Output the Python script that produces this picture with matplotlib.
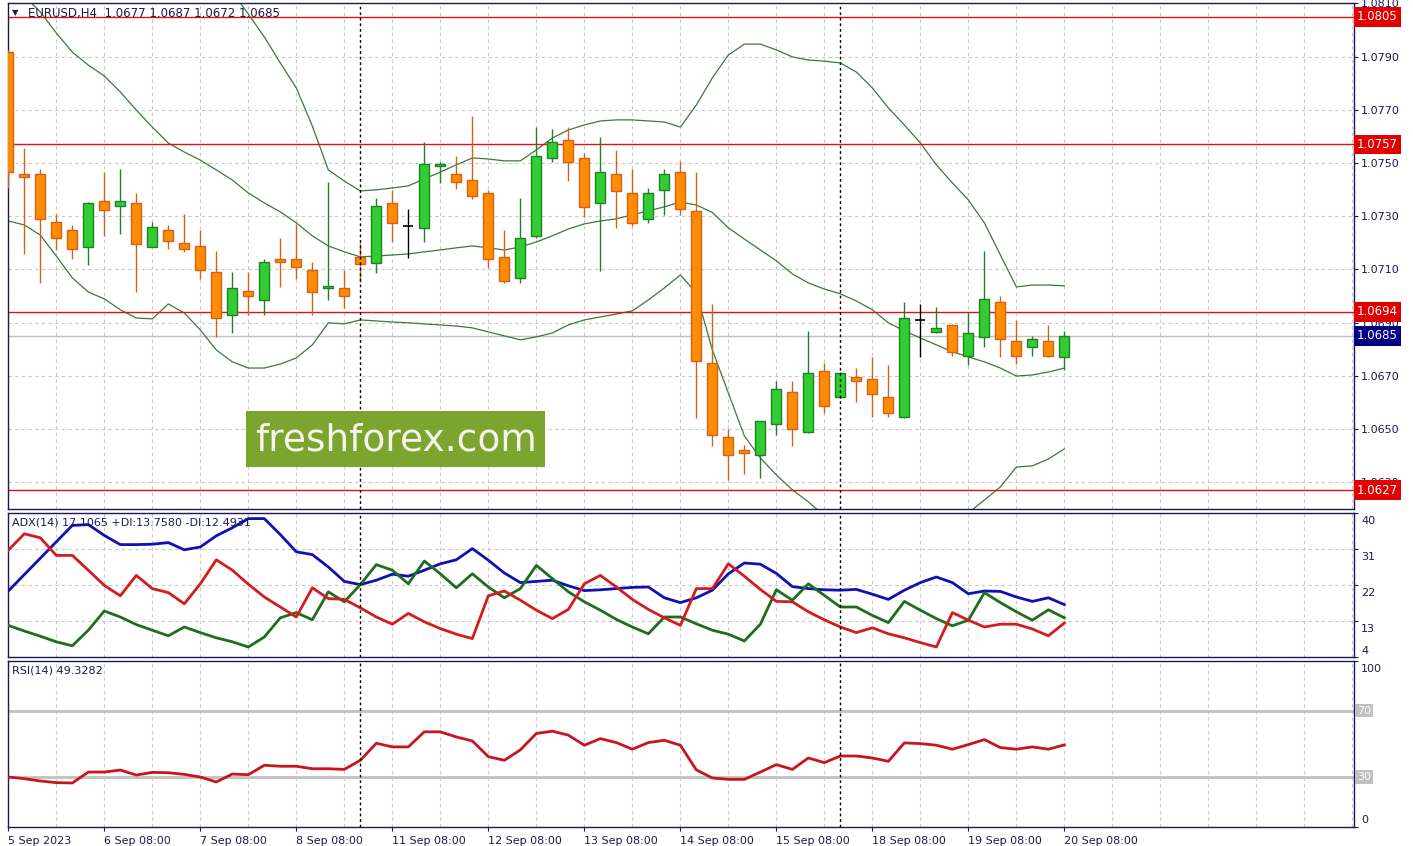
import matplotlib
matplotlib.use("Agg")
import matplotlib.pyplot as plt
import matplotlib.transforms as mtrans
from matplotlib.patches import Rectangle

# --- data (EURUSD H4) ---
opens = [1.07917, 1.07459, 1.07458, 1.07277, 1.07247, 1.07185, 1.07356, 1.07337, 1.07349, 1.07185,
         1.07247, 1.07198, 1.07187, 1.07089, 1.06929, 1.07018, 1.06986, 1.07139, 1.07139, 1.07098,
         1.07030, 1.07030, 1.07148, 1.07125, 1.07349, 1.07264, 1.07257, 1.07488, 1.07459, 1.07436,
         1.07386, 1.07146, 1.07067, 1.07227, 1.07518, 1.07587, 1.07518, 1.07349, 1.07459, 1.07386,
         1.07288, 1.07397, 1.07466, 1.07320, 1.06747, 1.06469, 1.06419, 1.06401, 1.06518, 1.06638,
         1.06488, 1.06717, 1.06619, 1.06697, 1.06687, 1.06619, 1.06546, 1.06909, 1.06866, 1.06891,
         1.06776, 1.06847, 1.06976, 1.06830, 1.06807, 1.06830, 1.06770]
highs = [1.07925, 1.07555, 1.07476, 1.07308, 1.07266, 1.07353, 1.07466, 1.07476, 1.07388, 1.07278,
         1.07266, 1.07308, 1.07248, 1.07169, 1.07089, 1.07089, 1.07139, 1.07217, 1.07270, 1.07127,
         1.07428, 1.07098, 1.07198, 1.07367, 1.07399, 1.07327, 1.07578, 1.07505, 1.07526, 1.07677,
         1.07399, 1.07248, 1.07367, 1.07637, 1.07627, 1.07634, 1.07539, 1.07597, 1.07549, 1.07478,
         1.07405, 1.07478, 1.07508, 1.07467, 1.06970, 1.06499, 1.06440, 1.06530, 1.06681, 1.06681,
         1.06869, 1.06747, 1.06714, 1.06728, 1.06770, 1.06740, 1.06976, 1.06970, 1.06958, 1.06893,
         1.06939, 1.07169, 1.07000, 1.06910, 1.06850, 1.06892, 1.06870]
lows = [1.07405, 1.07157, 1.07048, 1.07173, 1.07138, 1.07117, 1.07226, 1.07233, 1.07016, 1.07184,
        1.07176, 1.07167, 1.07065, 1.06847, 1.06860, 1.06929, 1.06929, 1.07035, 1.07065, 1.06929,
        1.06986, 1.06956, 1.07054, 1.07088, 1.07204, 1.07144, 1.07204, 1.07426, 1.07402, 1.07366,
        1.07104, 1.07048, 1.07048, 1.07217, 1.07505, 1.07434, 1.07296, 1.07095, 1.07257, 1.07263,
        1.07276, 1.07305, 1.07305, 1.06540, 1.06437, 1.06309, 1.06330, 1.06317, 1.06478, 1.06437,
        1.06485, 1.06559, 1.06617, 1.06601, 1.06546, 1.06546, 1.06540, 1.06770, 1.06860, 1.06776,
        1.06740, 1.06807, 1.06770, 1.06746, 1.06776, 1.06770, 1.06720]
closes = [1.07465, 1.07446, 1.07288, 1.07217, 1.07176, 1.07349, 1.07325, 1.07356, 1.07197, 1.07258,
          1.07206, 1.07176, 1.07097, 1.06916, 1.07029, 1.06999, 1.07127, 1.07127, 1.07108, 1.07016,
          1.07038, 1.06999, 1.07119, 1.07338, 1.07276, 1.07264, 1.07496, 1.07495, 1.07428, 1.07377,
          1.07138, 1.07058, 1.07217, 1.07525, 1.07578, 1.07505, 1.07336, 1.07466, 1.07396, 1.07276,
          1.07386, 1.07459, 1.07326, 1.06757, 1.06478, 1.06401, 1.06409, 1.06528, 1.06649, 1.06499,
          1.06710, 1.06588, 1.06710, 1.06680, 1.06631, 1.06559, 1.06916, 1.06909, 1.06879, 1.06789,
          1.06860, 1.06988, 1.06837, 1.06776, 1.06837, 1.06776, 1.06850]

# Bollinger bands
bb_upper = [1.09767, 1.09692, 1.09616, 1.09504, 1.09353, 1.09203, 1.09053, 1.08902, 1.08752, 1.08601,
            1.08489, 1.08395, 1.08301, 1.08218, 1.08143, 1.08060, 1.07974, 1.07876, 1.07782, 1.07639,
            1.07474, 1.07432, 1.07395, 1.07399, 1.07406, 1.07414, 1.07440, 1.07466, 1.07493, 1.07519,
            1.07515, 1.07508, 1.07508, 1.07549, 1.07594, 1.07624, 1.07643, 1.07658, 1.07662, 1.07662,
            1.07658, 1.07654, 1.07635, 1.07718, 1.07820, 1.07906, 1.07947, 1.07947, 1.07925, 1.07899,
            1.07887, 1.07883, 1.07876, 1.07842, 1.07782, 1.07707, 1.07643, 1.07575, 1.07493, 1.07425,
            1.07361, 1.07275, 1.07154, 1.07034, 1.07041, 1.07041, 1.07038]
bb_mid = [1.08188, 1.08128, 1.08068, 1.07989, 1.07917, 1.07868, 1.07827, 1.07767, 1.07699, 1.07635,
          1.07575, 1.07541, 1.07511, 1.07474, 1.07436, 1.07387, 1.07350, 1.07316, 1.07275, 1.07226,
          1.07188, 1.07166, 1.07147, 1.07150, 1.07154, 1.07158, 1.07166, 1.07173, 1.07181, 1.07188,
          1.07181, 1.07173, 1.07184, 1.07203, 1.07226, 1.07252, 1.07271, 1.07282, 1.07290, 1.07305,
          1.07320, 1.07335, 1.07353, 1.07342, 1.07314, 1.07256, 1.07214, 1.07173, 1.07132, 1.07083,
          1.07049, 1.07026, 1.07008, 1.06981, 1.06948, 1.06899, 1.06869, 1.06842, 1.06816, 1.06790,
          1.06771, 1.06752, 1.06729, 1.06699, 1.06703, 1.06714, 1.06729]
bb_lower = [1.07282, 1.07267, 1.07229, 1.07150, 1.07068, 1.07015, 1.06989, 1.06948, 1.06917, 1.06914,
            1.06970, 1.06936, 1.06872, 1.06797, 1.06752, 1.06729, 1.06729, 1.06744, 1.06767, 1.06816,
            1.06899, 1.06895, 1.06910, 1.06906, 1.06902, 1.06899, 1.06895, 1.06891, 1.06887, 1.06880,
            1.06865, 1.06850, 1.06835, 1.06846, 1.06861, 1.06891, 1.06910, 1.06921, 1.06932, 1.06944,
            1.06985, 1.07030, 1.07079, 1.07011, 1.06797, 1.06635, 1.06474, 1.06391, 1.06327, 1.06271,
            1.06226, 1.06173, 1.06143, 1.06121, 1.06106, 1.06098, 1.06102, 1.06113, 1.06132, 1.06158,
            1.06184, 1.06233, 1.06282, 1.06357, 1.06361, 1.06387, 1.06425]

# ADX(14)
adx = [20.5, 24.6, 28.7, 32.8, 36.9, 37.1, 34.4, 32.1, 32.1, 32.2,
       32.6, 30.8, 31.5, 34.3, 36.3, 38.6, 38.6, 34.6, 30.3, 29.6,
       26.5, 22.9, 22.1, 23.2, 24.7, 24.2, 25.7, 27.3, 28.3, 31.1,
       28.2, 25.0, 22.6, 22.9, 23.2, 21.8, 20.6, 20.8, 21.1, 21.4,
       21.5, 18.8, 17.6, 18.8, 20.7, 24.8, 27.5, 27.2, 24.9, 21.6,
       21.1, 20.8, 20.7, 20.9, 19.7, 18.4, 20.7, 22.6, 24.0, 22.6,
       19.8, 20.5, 20.4, 19.0, 17.9, 18.8, 17.1]
plus_di = [11.9, 10.5, 9.2, 7.8, 6.8, 10.7, 15.5, 14.0, 12.1, 10.7,
           9.3, 11.5, 10.1, 8.8, 7.8, 6.5, 9.0, 13.8, 15.1, 13.3,
           20.3, 17.8, 22.1, 27.1, 25.7, 22.3, 28.0, 24.8, 21.3, 24.8,
           21.5, 18.8, 21.1, 26.9, 23.6, 20.3, 17.8, 15.7, 13.4, 11.5,
           9.8, 14.0, 14.0, 12.3, 10.7, 9.7, 8.0, 12.2, 20.8, 18.2,
           22.3, 19.4, 16.5, 16.5, 14.4, 12.6, 17.9, 15.7, 13.6, 11.8,
           13.2, 20.1, 17.6, 15.3, 13.2, 15.8, 13.8]
minus_di = [30.7, 34.8, 33.8, 29.4, 29.4, 25.7, 21.9, 19.3, 24.4, 21.1,
            20.1, 17.3, 22.3, 28.3, 25.7, 22.2, 19.0, 16.5, 14.0, 21.3,
            18.6, 18.4, 16.3, 14.0, 12.2, 14.9, 12.8, 11.1, 9.7, 8.6,
            19.3, 20.5, 18.2, 15.7, 13.6, 15.9, 22.3, 24.4, 21.5, 18.4,
            15.9, 13.8, 11.9, 21.1, 21.1, 27.3, 24.2, 20.9, 17.9, 17.8,
            15.3, 13.3, 11.5, 10.1, 11.3, 9.8, 8.8, 7.6, 6.5, 15.1,
            13.2, 11.5, 12.2, 12.2, 11.0, 9.3, 12.5]

# RSI(14)
rsi = [29.9, 28.9, 27.5, 26.5, 26.3, 32.9, 32.9, 34.1, 31.1, 32.7,
       32.5, 31.5, 29.9, 26.9, 31.7, 31.3, 37.0, 36.4, 36.4, 34.9,
       34.9, 34.5, 40.0, 50.3, 48.1, 48.1, 57.2, 57.2, 54.1, 51.7,
       42.2, 40.0, 46.3, 56.2, 57.6, 55.2, 49.1, 53.1, 50.7, 46.7,
       50.7, 52.1, 49.1, 34.2, 29.3, 28.5, 28.5, 32.9, 37.4, 34.5,
       41.4, 38.6, 42.6, 42.6, 41.4, 39.4, 50.5, 50.1, 49.1, 46.7,
       49.5, 52.5, 47.7, 46.7, 48.1, 46.7, 49.3]

levels = [1.0805, 1.0757, 1.0694, 1.0627]
bid = 1.0685
date_labels = ["5 Sep 2023", "6 Sep 08:00", "7 Sep 08:00", "8 Sep 08:00", "11 Sep 08:00",
               "12 Sep 08:00", "13 Sep 08:00", "14 Sep 08:00", "15 Sep 08:00", "18 Sep 08:00",
               "19 Sep 08:00", "20 Sep 08:00"]
separators = [22, 52]

# colours
NAVY = "#1a1a50"
GRID = "#c8c8c8"
BULL, BULL_EDGE = "#32cd32", "#23802a"
BEAR, BEAR_EDGE = "#ff8c00", "#d0621a"
BAND = "#3a7a3a"
LEVEL_RED = "#dc1414"

W, H = 1413, 846
fig = plt.figure(figsize=(W / 100, H / 100), dpi=100)
fig.patch.set_facecolor("white")

def frac(l, t, r, b):
    return [l / W, 1 - b / H, (r - l) / W, (b - t) / H]

ax1 = fig.add_axes(frac(7.5, 3.4, 1354, 509))
ax2 = fig.add_axes(frac(7.5, 513, 1354, 657))
ax3 = fig.add_axes(frac(7.5, 661, 1354, 826.5))

n = len(closes)
xs = list(range(n))
xmin, xmax = -0.05, 84.1

for ax in (ax1, ax2, ax3):
    ax.set_xlim(xmin, xmax)
    ax.set_facecolor("white")
    for s in ax.spines.values():
        s.set_color(NAVY)
        s.set_linewidth(1)
    ax.set_xticks(range(0, n, 6))
    ax.set_xticks(range(0, 85, 3), minor=True)
    ax.grid(True, which="both", axis="x", color=GRID, ls=(0, (3, 3)), lw=0.8)
    ax.tick_params(axis="x", which="both", length=0)
    ax.tick_params(axis="y", which="both", direction="out", length=3, color=NAVY,
                   labelcolor=NAVY, labelsize=8, pad=2, right=True, left=False,
                   labelright=True, labelleft=False)
    for sx in separators:
        ax.axvline(sx, color="black", ls=(0, (2, 2)), lw=1, zorder=4)
    ax.set_axisbelow(True)

# --- main price panel ---
ax1.set_ylim(1.06199, 1.0810)
yt = [1.0630 + 0.002 * k for k in range(10)]
ax1.set_yticks(yt)
ax1.set_yticklabels([f"{v:.4f}" for v in yt])
ax1.grid(True, axis="y", color=GRID, ls=(0, (3, 3)), lw=0.8)
ax1.set_xticklabels([])

ax1.plot(xs, bb_upper, color=BAND, lw=0.9, zorder=2)
ax1.plot(xs, bb_mid, color=BAND, lw=0.9, zorder=2)
ax1.plot(xs, bb_lower, color=BAND, lw=0.9, zorder=2)

bw = 0.62
for i in xs:
    o, h, l, c = opens[i], highs[i], lows[i], closes[i]
    if c > o:
        face, edge = BULL, BULL_EDGE
    elif c < o:
        face, edge = BEAR, BEAR_EDGE
    else:
        face, edge = "black", "black"
    ax1.vlines(i, l, h, colors=edge, lw=1, zorder=3)
    if c == o:
        ax1.hlines(o, i - bw / 2, i + bw / 2, colors="black", lw=1.2, zorder=3)
    else:
        ax1.bar(i, abs(c - o), bottom=min(o, c), width=bw, color=face,
                edgecolor=edge, linewidth=1, zorder=3)

for lv in levels:
    ax1.axhline(lv, color=LEVEL_RED, lw=1, zorder=2.5)
ax1.axhline(bid, color="#c0c0c0", lw=1, zorder=1.5)

blend1 = mtrans.blended_transform_factory(ax1.transAxes, ax1.transData)
for lv in levels:
    ax1.text(1.0022, lv, f"{lv:.4f}", transform=blend1, color="white", fontsize=8.5,
             va="center", ha="left", zorder=6, clip_on=False,
             bbox=dict(boxstyle="square,pad=0.28", facecolor="#e00000", edgecolor="none"))
ax1.text(1.0022, bid, f"{bid:.4f}", transform=blend1, color="white", fontsize=8.5,
         va="center", ha="left", zorder=6, clip_on=False,
         bbox=dict(boxstyle="square,pad=0.28", facecolor="#000080", edgecolor="none"))

ax1.text(0.0035, 0.99, "▼", transform=ax1.transAxes, fontsize=6, color=NAVY,
         va="top", ha="left")
ax1.text(0.015, 0.992, "EURUSD,H4  1.0677 1.0687 1.0672 1.0685", transform=ax1.transAxes,
         fontsize=8.5, color=NAVY, va="top", ha="left")

# --- ADX panel ---
ax2.set_ylim(4, 40)
ax2.set_yticks([4, 13, 22, 31, 40])
ax2.set_yticklabels([])
ax2.grid(True, axis="y", color=GRID, ls=(0, (3, 3)), lw=0.8)
ax2.set_xticklabels([])
ax2.plot(xs, adx, color="#1010b4", lw=2, zorder=3)
ax2.plot(xs, plus_di, color="#1e6e1e", lw=2, zorder=3)
ax2.plot(xs, minus_di, color="#d41c1c", lw=2, zorder=3)
for v in [40, 31, 22, 13]:
    ax2.annotate(str(v), xy=(1, v), xycoords=("axes fraction", "data"), xytext=(5, -2),
                 textcoords="offset points", va="top", ha="left", fontsize=8, color=NAVY,
                 annotation_clip=False)
ax2.annotate("4", xy=(1, 4), xycoords=("axes fraction", "data"), xytext=(5, 1),
             textcoords="offset points", va="bottom", ha="left", fontsize=8, color=NAVY,
             annotation_clip=False)
ax2.text(0.0035, 0.97, "ADX(14) 17.1065 +DI:13.7580 -DI:12.4931", transform=ax2.transAxes,
         fontsize=8, color=NAVY, va="top", ha="left")

# --- RSI panel ---
ax3.set_ylim(0, 100)
ax3.set_yticks([0, 30, 70, 100])
ax3.set_yticklabels([])
ax3.axhline(70, color="#c0c0c0", lw=2, zorder=1.5)
ax3.axhline(30, color="#c0c0c0", lw=2, zorder=1.5)
ax3.plot(xs, rsi, color="#c8141e", lw=2, zorder=3)
ax3.annotate("100", xy=(1, 100), xycoords=("axes fraction", "data"), xytext=(5, -2),
             textcoords="offset points", va="top", ha="left", fontsize=8, color=NAVY,
             annotation_clip=False)
ax3.annotate("0", xy=(1, 0), xycoords=("axes fraction", "data"), xytext=(5, 1),
             textcoords="offset points", va="bottom", ha="left", fontsize=8, color=NAVY,
             annotation_clip=False)
blend3 = mtrans.blended_transform_factory(ax3.transAxes, ax3.transData)
for v in [70, 30]:
    ax3.text(1.0022, v, str(v), transform=blend3, color="white", fontsize=8, va="center",
             ha="left", clip_on=False,
             bbox=dict(boxstyle="square,pad=0.15", facecolor="#c0c0c0", edgecolor="none"))
ax3.text(0.0035, 0.97, "RSI(14) 49.3282", transform=ax3.transAxes, fontsize=8, color=NAVY,
         va="top", ha="left")
ax3.set_xticklabels(date_labels, fontsize=8, color=NAVY, ha="left")
ax3.tick_params(axis="x", which="major", length=3, color=NAVY, pad=4)

# watermark
fig.patches.append(Rectangle((246 / W, 1 - 467 / H), 299 / W, 56 / H, transform=fig.transFigure,
                             facecolor="#7ba52e", edgecolor="none", zorder=5))
fig.text(395.5 / W, 1 - 440 / H, "freshforex.com", fontsize=27, color="#f4f6ec",
         ha="center", va="center", zorder=6)

fig.savefig("out.png", dpi=100)
